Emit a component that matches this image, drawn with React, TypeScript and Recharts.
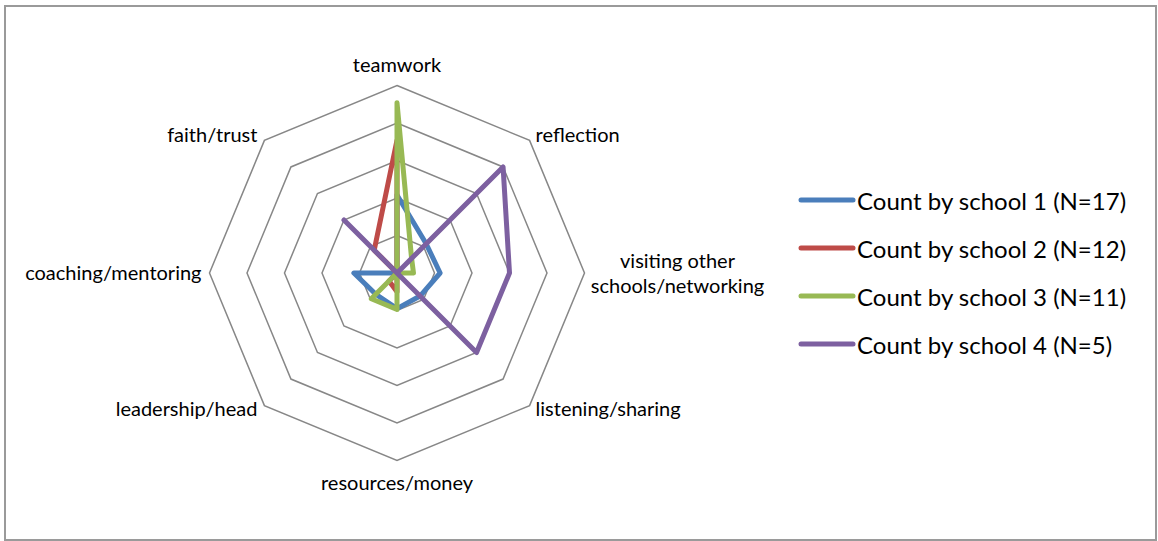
import { Legend, PolarAngleAxis, PolarGrid, PolarRadiusAxis, Radar, RadarChart } from 'recharts'

const categories = [
  'teamwork',
  'reflection',
  'visiting other schools/networking',
  'listening/sharing',
  'resources/money',
  'leadership/head',
  'coaching/mentoring',
  'faith/trust',
]

const school1 = [2.08, 1.1, 1.15, 0.87, 0.95, 0.8, 1.15, 0]
const school2 = [3.54, 0, 0, 0, 0.5, 0.3, 0, 0.86]
const school3 = [4.54, 0.55, 0.44, 0, 0.97, 0.97, 0, 0]
const school4 = [0, 4, 3, 3, 0, 0, 0, 2]

const seriesNames = [
  'Count by school 1 (N=17)',
  'Count by school 2 (N=12)',
  'Count by school 3 (N=11)',
  'Count by school 4 (N=5)',
]
const colors = ['#4a7ebb', '#be4b48', '#98b954', '#7d60a0']

const data = categories.map((c, i) => ({
  category: c,
  s1: school1[i],
  s2: school2[i],
  s3: school3[i],
  s4: school4[i],
}))

const CX = 397
const CY = 273
const R = 187.5
const FONT = 'Lato, "Open Sans", sans-serif'

// greedy wrap, like excel does for the long label
function wrap(text: string, max: number) {
  const lines: string[] = []
  let cur = ''
  for (const w of text.split(' ')) {
    if (cur && (cur + ' ' + w).length > max) {
      lines.push(cur)
      cur = w
    } else {
      cur = cur ? cur + ' ' + w : w
    }
  }
  if (cur) lines.push(cur)
  return lines
}

function AngleTick(props: any) {
  const { payload } = props
  const a = (payload.coordinate * Math.PI) / 180
  const cos = Math.cos(a)
  const sin = Math.sin(a)
  const vx = CX + R * cos
  const vy = CY - R * sin
  const lines = wrap(String(payload.value), 15)

  let anchor: 'start' | 'middle' | 'end' = 'middle'
  let x = vx
  let y = vy
  if (Math.abs(cos) < 0.1) {
    y = sin > 0 ? vy - 14 : vy + 29
  } else if (Math.abs(sin) < 0.1) {
    if (lines.length > 1) {
      anchor = 'middle'
      x = cos > 0 ? vx + 93 : vx - 93
      y = vy - 5
    } else {
      anchor = cos > 0 ? 'start' : 'end'
      x = cos > 0 ? vx + 7 : vx - 8
      y = vy + 7
    }
  } else {
    anchor = cos > 0 ? 'start' : 'end'
    x = cos > 0 ? vx + 6 : vx - 7
    y = sin > 0 ? vy + 2 : vy + 10
  }

  return (
    <text x={x} y={y} textAnchor={anchor} fontSize={20} fontFamily={FONT} fill="#000">
      {lines.map((l, i) => (
        <tspan key={i} x={x} dy={i === 0 ? 0 : 25}>
          {l}
        </tspan>
      ))}
    </text>
  )
}

function LegendBox({ payload }: any) {
  return (
    <div>
      {(payload || []).map((p: any) => (
        <div key={p.value} style={{ height: 48, display: 'flex', alignItems: 'center' }}>
          <svg width={59} height={10} style={{ display: 'block' }}>
            <line x1={3} y1={5} x2={55} y2={5} stroke={p.color} strokeWidth={5} strokeLinecap="round" />
          </svg>
          <span style={{ fontFamily: FONT, fontSize: 24, color: '#000', whiteSpace: 'nowrap' }}>{p.value}</span>
        </div>
      ))}
    </div>
  )
}

export default function App() {
  return (
    <div style={{ position: 'absolute', left: 0, top: 0, width: 1158, height: 541, background: '#fff' }}>
      <div
        style={{
          position: 'absolute',
          left: 4,
          top: 5,
          width: 1153,
          height: 536,
          border: '2px solid #9a9a9a',
          boxSizing: 'border-box',
        }}
      />
      <div style={{ position: 'absolute', left: 0, top: 0 }}>
        <RadarChart
          width={1158}
          height={541}
          data={data}
          cx={CX}
          cy={CY}
          outerRadius={R}
          margin={{ top: 0, right: 0, bottom: 0, left: 0 }}
        >
          <PolarGrid gridType="polygon" radialLines={false} stroke="#878787" strokeWidth={1.5} />
          <PolarAngleAxis dataKey="category" tick={<AngleTick />} tickLine={false} axisLine={false} />
          <PolarRadiusAxis domain={[0, 5]} tickCount={6} tick={false} axisLine={false} />
          {['s1', 's2', 's3', 's4'].map((k, i) => (
            <Radar
              key={k}
              name={seriesNames[i]}
              dataKey={k}
              stroke={colors[i]}
              strokeWidth={5}
              strokeLinejoin="round"
              fill="none"
              fillOpacity={0}
              dot={false}
              isAnimationActive={false}
            />
          ))}
          <Legend
            layout="vertical"
            align="right"
            verticalAlign="middle"
            content={<LegendBox />}
            wrapperStyle={{ left: 798, top: 176, right: 'auto', width: 360 }}
          />
        </RadarChart>
      </div>
    </div>
  )
}
